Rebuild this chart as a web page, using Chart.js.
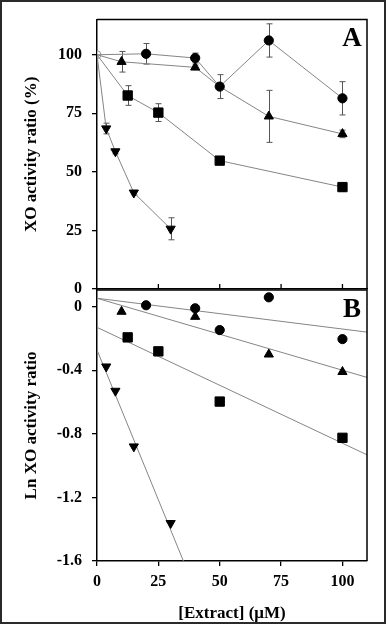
<!DOCTYPE html>
<html><head><meta charset="utf-8">
<script src="https://cdn.jsdelivr.net/npm/chart.js@4.4.1/dist/chart.umd.min.js"></script>
<style>
html,body{margin:0;padding:0;background:#fff;}
#wrap{position:relative;width:387px;height:624px;overflow:hidden;background:#fff;}
canvas{position:absolute;left:0;top:0;}
#frame{position:absolute;left:0;top:0;width:386px;height:624px;box-sizing:border-box;border:2px solid #2a2a2a;pointer-events:none;}
</style></head><body>
<div id="wrap"><canvas id="cA" width="387" height="624"></canvas><canvas id="cB" width="387" height="624"></canvas><div id="frame"></div></div>
<script>
// ---- tick values ----
const xTicks = [0, 25, 50, 75, 100];
const yTicksA = [0, 25, 50, 75, 100];
const yTicksB = [-1.6, -1.2, -0.8, -0.4, 0];

// ---- Panel A: XO activity ratio (%) ----
const xCircleA = [0, 20, 40, 50, 70, 100];
const yCircleA = [100, 100.4, 98.6, 86.4, 106.1, 81.4];
const eCircleA = [0, 4.4, 2.1, 5.1, 7.1, 7.1];

const xTriA = [0, 10, 40, 50, 70, 100];
const yTriA = [100, 97.0, 94.6, 86.4, 73.7, 66.2];
const eTriA = [0, 4.4, 1.0, 0, 11.1, 1.6];

const xSqA = [0, 12.5, 25, 50, 100];
const ySqA = [100, 82.6, 75.3, 54.8, 43.5];
const eSqA = [0, 4.2, 3.8, 1.0, 1.8];

const xInvA = [0, 3.75, 7.5, 15, 30];
const yInvA = [100, 68.5, 58.7, 41.1, 25.7];
const eInvA = [0, 2.3, 1.0, 1.0, 4.7];

// ---- Panel B: Ln XO activity ratio ----
const xCircleB = [20, 40, 50, 70, 100];
const yCircleB = [0.009, -0.010, -0.147, 0.059, -0.204];
const xTriB = [10, 40, 70, 100];
const yTriB = [-0.031, -0.063, -0.300, -0.410];
const xSqB = [12.5, 25, 50, 100];
const ySqB = [-0.193, -0.281, -0.597, -0.825];
const xInvB = [3.75, 7.5, 15, 30];
const yInvB = [-0.377, -0.530, -0.880, -1.362];

// fitted lines (end points)
const xFitCircle = [0, 110], yFitCircle = [0.053, -0.160];
const xFitTri = [0, 110], yFitTri = [0.053, -0.445];
const xFitSq = [0, 110], yFitSq = [-0.130, -0.932];
const xFitInv = [0, 35.2], yFitInv = [-0.272, -1.6];

const pts = (xs, ys) => xs.map((x, i) => ({x, y: ys[i]}));
const FAM = '"Liberation Serif","Times New Roman",serif';
const tickFont = {family: FAM, weight: 'bold', size: 16};
const titleFont = {family: FAM, weight: 'bold', size: 17};
const LINE = '#858585';

function panelPlugin(o) {
  return {
    id: 'panel' + o.letter,
    beforeDatasetsDraw(chart) {
      const ctx = chart.ctx, xs = chart.scales.x, ys = chart.scales.y;
      ctx.save();
      ctx.strokeStyle = '#555'; ctx.lineWidth = 1;
      (o.errors || []).forEach(s => {
        s.x.forEach((xv, i) => {
          const e = s.e[i]; if (!e) return;
          const px = Math.round(xs.getPixelForValue(xv)) + 0.5;
          const p1 = ys.getPixelForValue(s.y[i] + e), p2 = ys.getPixelForValue(s.y[i] - e);
          ctx.beginPath();
          ctx.moveTo(px, p1); ctx.lineTo(px, p2);
          ctx.moveTo(px - 3, p1); ctx.lineTo(px + 3, p1);
          ctx.moveTo(px - 3, p2); ctx.lineTo(px + 3, p2);
          ctx.stroke();
        });
      });
      ctx.restore();
    },
    afterDraw(chart) {
      const ctx = chart.ctx, a = chart.chartArea;
      ctx.save();
      ctx.strokeStyle = '#000'; ctx.lineWidth = 1.5;
      ctx.beginPath();
      ctx.moveTo(a.left, a.top); ctx.lineTo(a.right, a.top); ctx.lineTo(a.right, a.bottom);
      ctx.stroke();
      if (o.innerTicks) {
        ctx.lineWidth = 1.3;
        xTicks.forEach(v => {
          if (v === 0) return;
          const px = chart.scales.x.getPixelForValue(v);
          ctx.beginPath(); ctx.moveTo(px, a.bottom); ctx.lineTo(px, a.bottom - 5); ctx.stroke();
        });
      }
      ctx.fillStyle = '#000';
      ctx.font = 'bold 27px ' + FAM;
      ctx.textAlign = 'center'; ctx.textBaseline = 'middle';
      ctx.fillText(o.letter, a.right - 15, a.top + o.letterDy);
      ctx.restore();
    }
  };
}

function yScale(min, max, ticks, title, fmt) {
  return {
    type: 'linear', min, max,
    afterBuildTicks: s => { s.ticks = ticks.map(v => ({value: v})); },
    afterFit: s => { s.width = 97; },
    ticks: {font: tickFont, color: '#000', padding: 10, callback: fmt},
    grid: {drawOnChartArea: false, drawTicks: true, tickLength: 5, color: '#000', lineWidth: 1.3},
    border: {display: true, color: '#000', width: 1.5},
    title: {display: true, text: title, font: titleFont, color: '#000', padding: {top: 21, bottom: 0}}
  };
}

const markerBase = {pointBackgroundColor: '#000', pointBorderColor: '#000', pointBorderWidth: 1, borderColor: LINE, borderWidth: 1, showLine: true};
const hideAt = (r, hidden) => ctx => (ctx.raw && hidden.includes(ctx.raw.x)) ? 0 : r;

new Chart(document.getElementById('cA'), {
  type: 'scatter',
  data: {datasets: [
    {...markerBase, data: pts(xCircleA, yCircleA), pointStyle: 'circle', pointRadius: hideAt(4.6, [0])},
    {...markerBase, data: pts(xTriA, yTriA), pointStyle: 'triangle', pointRadius: hideAt(5.3, [0, 50])},
    {...markerBase, data: pts(xSqA, ySqA), pointStyle: 'rect', pointRadius: hideAt(6.6, [0])},
    {...markerBase, data: pts(xInvA, yInvA), pointStyle: 'triangle', pointRotation: 180, pointRadius: hideAt(5.3, [0])},
    {data: pts([xCircleA[0]], [yCircleA[0]]), pointStyle: 'circle', pointRadius: 4, pointBackgroundColor: 'rgba(255,255,255,0.6)', pointBorderColor: '#999', pointBorderWidth: 1, showLine: false}
  ]},
  options: {
    responsive: false, animation: false, devicePixelRatio: 1,
    layout: {padding: {left: 0, top: 19, right: 20, bottom: 335}},
    plugins: {legend: {display: false}, tooltip: {enabled: false}},
    scales: {
      x: {type: 'linear', min: 0, max: 110,
        afterBuildTicks: s => { s.ticks = xTicks.map(v => ({value: v})); },
        afterFit: s => { s.height = 0; },
        ticks: {display: false}, grid: {display: false},
        border: {display: true, color: '#000', width: 1.5}},
      y: yScale(0, 115, yTicksA, 'XO activity ratio (%)', v => String(v))
    }
  },
  plugins: [panelPlugin({letter: 'A', letterDy: 19, innerTicks: true, errors: [
    {x: xCircleA, y: yCircleA, e: eCircleA},
    {x: xTriA, y: yTriA, e: eTriA},
    {x: xSqA, y: ySqA, e: eSqA},
    {x: xInvA, y: yInvA, e: eInvA}
  ]})]
});

const scatBase = {pointBackgroundColor: '#000', pointBorderColor: '#000', pointBorderWidth: 1, showLine: false};
const fitBase = {showLine: true, pointRadius: 0, borderColor: LINE, borderWidth: 1};

new Chart(document.getElementById('cB'), {
  type: 'scatter',
  data: {datasets: [
    {...scatBase, data: pts(xCircleB, yCircleB), pointStyle: 'circle', pointRadius: 4.6},
    {...scatBase, data: pts(xTriB, yTriB), pointStyle: 'triangle', pointRadius: 5.3},
    {...scatBase, data: pts(xSqB, ySqB), pointStyle: 'rect', pointRadius: 6.6},
    {...scatBase, data: pts(xInvB, yInvB), pointStyle: 'triangle', pointRotation: 180, pointRadius: 5.3},
    {...fitBase, data: pts(xFitCircle, yFitCircle)},
    {...fitBase, data: pts(xFitTri, yFitTri)},
    {...fitBase, data: pts(xFitSq, yFitSq)},
    {...fitBase, data: pts(xFitInv, yFitInv)}
  ]},
  options: {
    responsive: false, animation: false, devicePixelRatio: 1,
    layout: {padding: {left: 0, top: 290, right: 20, bottom: 0}},
    plugins: {legend: {display: false}, tooltip: {enabled: false}},
    scales: {
      x: {type: 'linear', min: 0, max: 110,
        afterBuildTicks: s => { s.ticks = xTicks.map(v => ({value: v})); },
        afterFit: s => { s.height = 63; },
        ticks: {font: tickFont, color: '#000', padding: 6, maxRotation: 0},
        grid: {drawOnChartArea: false, drawTicks: true, tickLength: 5, color: '#000', lineWidth: 1.3},
        border: {display: true, color: '#000', width: 1.5},
        title: {display: true, text: '[Extract] (μM)', font: titleFont, color: '#000', padding: {top: 0, bottom: 0}}},
      y: yScale(-1.6, 0.105, yTicksB, 'Ln XO activity ratio', v => v === 0 ? '0' : v.toFixed(1))
    }
  },
  plugins: [panelPlugin({letter: 'B', letterDy: 20, innerTicks: false, errors: []})]
});
</script>
</body></html>
